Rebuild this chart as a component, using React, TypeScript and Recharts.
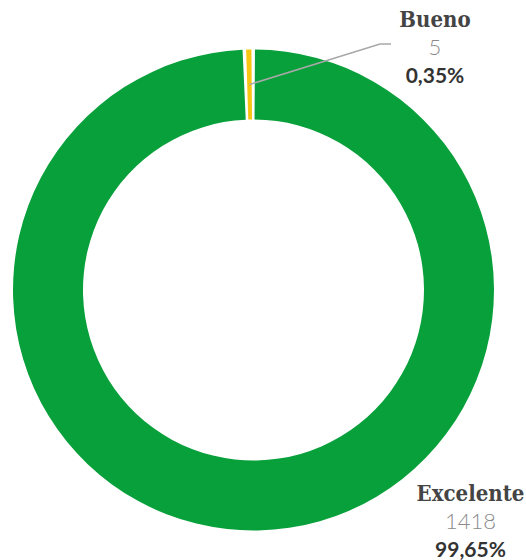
import { Pie, PieChart, Cell } from "recharts";

const categories = ["Excelente", "Bueno"];
const counts = [1418, 5];
const colors = ["#08a03a", "#f7c512"];

const data = categories.map((name, i) => ({ name, value: counts[i] }));

const RADIAN = Math.PI / 180;

// label block anchors, relative to the pie centre
const labelAnchor: Record<string, { dx: number; dy: number; leader: boolean }> = {
  Bueno: { dx: 181.5, dy: -263.5, leader: true },
  Excelente: { dx: 217, dy: 211, leader: false },
};

const titleFont = "'DejaVu Serif Condensed', 'DejaVu Serif', serif";
const numFont = "Lato, 'Open Sans', sans-serif";

function fmtPct(p: number) {
  return (p * 100).toFixed(2).replace(".", ",") + "%";
}

function renderLabel(props: any) {
  const { cx, cy, midAngle, innerRadius, outerRadius, percent, name, value } = props;
  const a = labelAnchor[name];
  if (!a) return null;
  const x = cx + a.dx;
  const y = cy + a.dy;
  let leader = null;
  if (a.leader) {
    const r = (innerRadius + outerRadius) / 2;
    const sx = cx + r * Math.cos(-midAngle * RADIAN);
    const sy = cy + r * Math.sin(-midAngle * RADIAN);
    const ey = cy - 246;
    leader = (
      <polyline
        points={`${sx},${sy} ${cx + 126.5},${ey} ${cx + 137.5},${ey}`}
        fill="none"
        stroke="#a8a8a8"
        strokeWidth={1.5}
      />
    );
  }
  return (
    <g>
      {leader}
      <text x={x} y={y} textAnchor="middle" fontFamily={titleFont} fontWeight="bold" fontSize={22} fill="#444">
        {name}
      </text>
      <text x={x} y={y + 28} textAnchor="middle" fontFamily={numFont} fontWeight={300} fontSize={22} fill="#8a8a8a">
        {value}
      </text>
      <text x={x} y={y + 56} textAnchor="middle" fontFamily={numFont} fontWeight="bold" fontSize={21} fill="#333">
        {fmtPct(percent)}
      </text>
    </g>
  );
}

export default function App() {
  return (
    <div style={{ position: "absolute", left: 0, top: 0, width: 526, height: 560 }}>
      <PieChart width={526} height={560} margin={{ top: 0, right: 0, bottom: 0, left: 0 }}>
        <Pie
          data={data}
          dataKey="value"
          nameKey="name"
          cx={253.5}
          cy={290}
          innerRadius={170.5}
          outerRadius={240.5}
          startAngle={89.65}
          endAngle={-270.35}
          paddingAngle={0.85}
          stroke="none"
          label={renderLabel}
          labelLine={false}
          isAnimationActive={false}
        >
          {data.map((d, i) => (
            <Cell key={d.name} fill={colors[i]} />
          ))}
        </Pie>
      </PieChart>
    </div>
  );
}
